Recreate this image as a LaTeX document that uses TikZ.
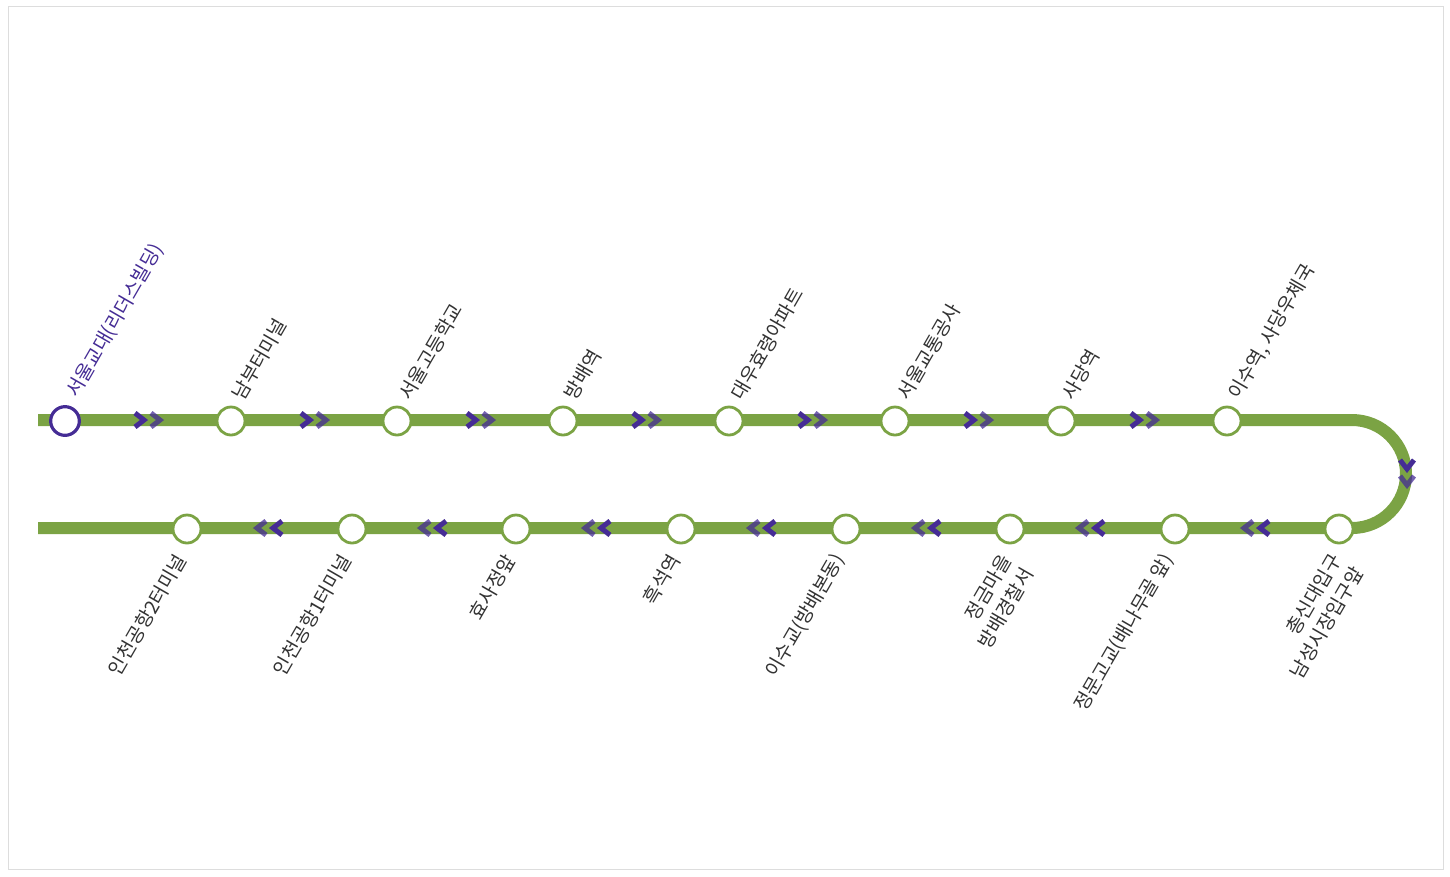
\documentclass[tikz,border=0pt]{standalone}
\usepackage{fontspec}
\setmainfont{Noto Sans CJK KR}
\usepackage{tikz}
\usetikzlibrary{backgrounds}
\definecolor{linegreen} {HTML}{7BA344}
\definecolor{startviolet}{HTML}{452C95}
\definecolor{labelink}  {HTML}{333333}
\definecolor{framegray} {HTML}{DDDDDD}
\tikzset{
  % --- nodes
  stop/.style   = {circle, draw=linegreen, fill=white, line width=2.1pt,
                   minimum size=21pt, inner sep=0pt},
  start/.style  = {stop, draw=startviolet, line width=2.4pt, minimum size=21.5pt},
  up/.style     = {font=\fontsize{14.5pt}{19pt}\selectfont, text=labelink, rotate=60,
                   anchor=west, inner sep=0pt, align=left},
  upfirst/.style= {up, text=startviolet},
  down/.style   = {font=\fontsize{14.5pt}{19pt}\selectfont, text=labelink, rotate=60,
                   anchor=east, inner sep=0pt, align=right},
  % --- edges
  track/.style  = {line width=9pt, draw=linegreen},
  chev/.style   = {line width=3.75pt, draw=startviolet, line join=miter},
  chevfade/.style = {chev, draw opacity=.75},
  % one pair of chevrons, drawn pointing right
  pics/pair/.style = {code={
    \draw[chev] (-6,-7)--(3,0)--(-6,7);
    \draw[chevfade] (10,-7)--(19,0)--(10,7);
  }},
}
\begin{document}
\begin{tikzpicture}[x=.75pt,y=-.75pt]
  \useasboundingbox (0,0) rectangle (1450,876);
  % --- stops, upper run
  \node[start] (s1) at (65,421)  {};
  \node[stop]  (s2) at (231,421) {};
  \node[stop]  (s3) at (397,421) {};
  \node[stop]  (s4) at (563,421) {};
  \node[stop]  (s5) at (729,421) {};
  \node[stop]  (s6) at (895,421) {};
  \node[stop]  (s7) at (1061,421) {};
  \node[stop]  (s8) at (1227,421) {};
  % --- stops, lower run
  \node[stop]  (s9)  at (1339,529) {};
  \node[stop]  (s10) at (1175,529) {};
  \node[stop]  (s11) at (1010,529) {};
  \node[stop]  (s12) at (846,529) {};
  \node[stop]  (s13) at (681,529) {};
  \node[stop]  (s14) at (516,529) {};
  \node[stop]  (s15) at (352,529) {};
  \node[stop]  (s16) at (187,529) {};
  \coordinate (west1) at (38,420);
  \coordinate (west2) at (38,528);
  \coordinate (bend1) at (1352,420);
  \coordinate (bend2) at (1352,528);
  \begin{scope}[on background layer]
    \draw[framegray,fill=white] (8,6) rectangle (1443,869);
    \draw[track] (west1)--(bend1) arc[start angle=90,end angle=-90,radius=40.5pt]--(west2);
  \end{scope}
  % --- labels
  \node[upfirst] (l1) at (72,396) {서울교대(리더스빌딩)};
  \node[up] (l2) at (237,398) {남부터미널};
  \node[up] (l3) at (404,398) {서울고등학교};
  \node[up] (l4) at (569,398) {방배역};
  \node[up] (l5) at (736,398) {대우효령아파트};
  \node[up] (l6) at (902,398) {서울교통공사};
  \node[up] (l7) at (1067,398) {사당역};
  \node[up] (l8) at (1234,398) {이수역, 사당우체국};
  \node[down] (l9)  at (1347,562) {총신대입구\\남성시장입구앞};
  \node[down] (l10) at (1169,556) {정문고교(배나무골 앞)};
  \node[down] (l11) at (1017,563) {정금마을\\방배경찰서};
  \node[down] (l12) at (840,556) {이수교(방배본동)};
  \node[down] (l13) at (675,556) {흑석역};
  \node[down] (l14) at (510,556) {효사정앞};
  \node[down] (l15) at (346,556) {인천공항1터미널};
  \node[down] (l16) at (181,556) {인천공항2터미널};
  % --- chevrons
  \pic at (141,420) {pair};
  \pic at (307,420) {pair};
  \pic at (473,420) {pair};
  \pic at (639,420) {pair};
  \pic at (805,420) {pair};
  \pic at (971,420) {pair};
  \pic at (1137,420) {pair};
  \pic[rotate=-90] at (1407,466) {pair};
  \pic[rotate=180] at (1263,528) {pair};
  \pic[rotate=180] at (1098,528) {pair};
  \pic[rotate=180] at (934,528) {pair};
  \pic[rotate=180] at (769,528) {pair};
  \pic[rotate=180] at (604,528) {pair};
  \pic[rotate=180] at (440,528) {pair};
  \pic[rotate=180] at (276,528) {pair};
\end{tikzpicture}
\end{document}
